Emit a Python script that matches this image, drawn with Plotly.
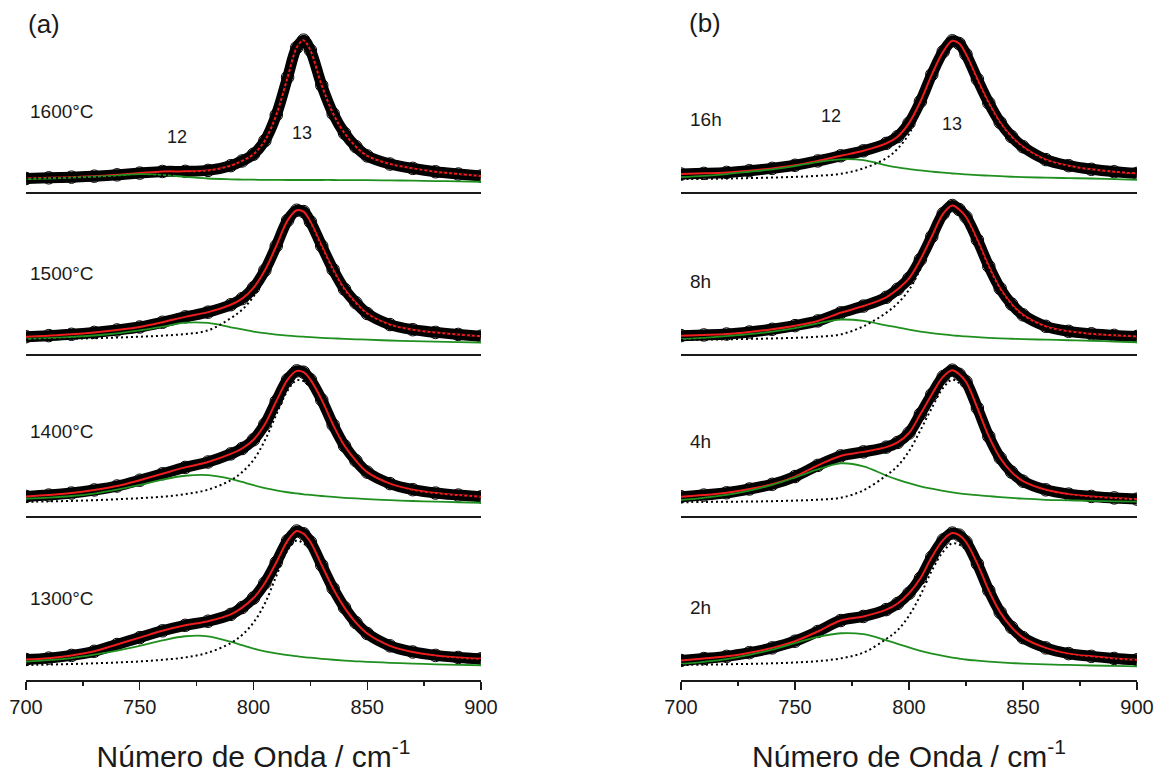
import plotly.graph_objects as go

# ---------------- data ----------------
wavenumber = [700, 710, 720, 730, 740, 750, 760, 770, 780, 790, 795, 800, 805, 810,
              815, 819, 822, 825, 830, 835, 840, 845, 850, 860, 870, 880, 890, 900]

labels_a = ["1600°C", "1500°C", "1400°C", "1300°C"]
labels_b = ["16h", "8h", "4h", "2h"]
tick_values = [700, 750, 800, 850, 900]
minor_tick_values = [725, 775, 825, 875]

# (a) 1600 °C
total_1600 = [0.000, 0.005, 0.010, 0.017, 0.027, 0.040, 0.052, 0.053, 0.060, 0.095, 0.130, 0.180, 0.280, 0.470,
              0.750, 0.970, 1.025, 0.950, 0.690, 0.480, 0.335, 0.236, 0.167, 0.107, 0.075, 0.050, 0.033, 0.018]
band12_1600 = [-0.004, 0.000, 0.006, 0.013, 0.022, 0.032, 0.027, 0.012, 0.000, -0.006, -0.008, -0.009, -0.010, -0.010,
               -0.011, -0.011, -0.011, -0.011, -0.011, -0.011, -0.012, -0.012, -0.012, -0.014, -0.016, -0.019, -0.021, -0.024]
band13_1600 = [0.000, 0.003, 0.006, 0.009, 0.012, 0.016, 0.024, 0.038, 0.055, 0.093, 0.130, 0.180, 0.280, 0.470,
               0.750, 0.970, 1.025, 0.950, 0.690, 0.480, 0.335, 0.236, 0.167, 0.107, 0.075, 0.050, 0.033, 0.018]
# (a) 1500 °C
total_1500 = [0.028, 0.036, 0.046, 0.060, 0.078, 0.100, 0.135, 0.175, 0.210, 0.265, 0.310, 0.390, 0.520, 0.700,
              0.890, 0.965, 0.955, 0.880, 0.700, 0.525, 0.380, 0.280, 0.200, 0.118, 0.080, 0.060, 0.045, 0.032]
band12_1500 = [0.012, 0.018, 0.026, 0.037, 0.053, 0.075, 0.103, 0.132, 0.130, 0.098, 0.082, 0.066, 0.054, 0.044,
               0.036, 0.031, 0.028, 0.025, 0.020, 0.016, 0.012, 0.009, 0.006, 0.000, -0.005, -0.009, -0.012, -0.015]
band13_1500 = [0.008, 0.010, 0.013, 0.017, 0.022, 0.028, 0.036, 0.048, 0.075, 0.165, 0.228, 0.325, 0.465, 0.655,
               0.850, 0.930, 0.925, 0.853, 0.680, 0.510, 0.368, 0.270, 0.195, 0.112, 0.078, 0.058, 0.044, 0.032]
# (a) 1400 °C
total_1400 = [0.045, 0.055, 0.070, 0.093, 0.122, 0.165, 0.213, 0.260, 0.300, 0.360, 0.400, 0.465, 0.580, 0.750,
              0.910, 0.975, 0.965, 0.910, 0.760, 0.575, 0.420, 0.310, 0.225, 0.140, 0.095, 0.070, 0.055, 0.042]
band12_1400 = [0.028, 0.036, 0.048, 0.066, 0.095, 0.130, 0.170, 0.198, 0.203, 0.175, 0.152, 0.128, 0.107, 0.090,
               0.076, 0.067, 0.061, 0.056, 0.048, 0.041, 0.035, 0.030, 0.025, 0.017, 0.011, 0.006, 0.002, -0.002]
band13_1400 = [0.005, 0.008, 0.012, 0.017, 0.024, 0.032, 0.043, 0.062, 0.095, 0.165, 0.225, 0.315, 0.460, 0.650,
               0.830, 0.905, 0.900, 0.850, 0.710, 0.535, 0.385, 0.280, 0.200, 0.122, 0.083, 0.063, 0.052, 0.044]
# (a) 1300 °C
total_1300 = [0.050, 0.060, 0.080, 0.110, 0.160, 0.210, 0.260, 0.300, 0.330, 0.380, 0.430, 0.500, 0.610, 0.760,
              0.920, 0.990, 0.970, 0.910, 0.740, 0.570, 0.430, 0.320, 0.240, 0.150, 0.105, 0.080, 0.065, 0.055]
band12_1300 = [0.035, 0.045, 0.060, 0.085, 0.115, 0.150, 0.190, 0.220, 0.220, 0.180, 0.155, 0.130, 0.110, 0.095,
               0.082, 0.074, 0.068, 0.063, 0.055, 0.048, 0.042, 0.037, 0.033, 0.026, 0.020, 0.015, 0.011, 0.008]
band13_1300 = [0.010, 0.013, 0.017, 0.022, 0.028, 0.036, 0.048, 0.065, 0.100, 0.170, 0.230, 0.320, 0.460, 0.660,
               0.850, 0.920, 0.900, 0.850, 0.690, 0.520, 0.390, 0.285, 0.210, 0.125, 0.085, 0.065, 0.054, 0.047]
# (b) 16 h
total_16h = [0.033, 0.038, 0.045, 0.058, 0.075, 0.098, 0.130, 0.168, 0.205, 0.260, 0.310, 0.410, 0.570, 0.770,
             0.940, 1.020, 1.000, 0.920, 0.735, 0.560, 0.415, 0.310, 0.235, 0.140, 0.095, 0.068, 0.050, 0.038]
band12_16h = [0.010, 0.020, 0.033, 0.050, 0.068, 0.092, 0.122, 0.142, 0.136, 0.098, 0.082, 0.070, 0.060, 0.051,
              0.043, 0.037, 0.034, 0.030, 0.025, 0.021, 0.017, 0.013, 0.010, 0.006, 0.003, 0.000, -0.005, -0.010]
band13_16h = [-0.005, -0.003, 0.000, 0.003, 0.007, 0.012, 0.020, 0.035, 0.075, 0.150, 0.220, 0.330, 0.510, 0.720,
              0.900, 0.985, 0.970, 0.890, 0.710, 0.540, 0.400, 0.300, 0.225, 0.134, 0.092, 0.068, 0.052, 0.042]
# (b) 8 h
total_8h = [0.036, 0.041, 0.048, 0.063, 0.083, 0.110, 0.145, 0.205, 0.255, 0.320, 0.380, 0.460, 0.600, 0.770,
            0.940, 1.000, 0.970, 0.915, 0.745, 0.550, 0.385, 0.270, 0.190, 0.105, 0.068, 0.050, 0.038, 0.030]
band12_8h = [0.010, 0.020, 0.033, 0.047, 0.066, 0.092, 0.127, 0.155, 0.145, 0.112, 0.097, 0.080, 0.066, 0.055,
             0.045, 0.038, 0.034, 0.030, 0.025, 0.020, 0.016, 0.013, 0.010, 0.006, 0.002, -0.002, -0.008, -0.013]
band13_8h = [0.004, 0.006, 0.009, 0.012, 0.015, 0.020, 0.028, 0.045, 0.105, 0.205, 0.275, 0.375, 0.530, 0.715,
             0.895, 0.960, 0.935, 0.885, 0.720, 0.530, 0.370, 0.258, 0.180, 0.100, 0.066, 0.050, 0.040, 0.032]
# (b) 4 h
total_4h = [0.043, 0.055, 0.072, 0.100, 0.135, 0.192, 0.275, 0.345, 0.375, 0.410, 0.445, 0.515, 0.655, 0.800,
            0.932, 0.980, 0.950, 0.895, 0.700, 0.490, 0.330, 0.225, 0.158, 0.094, 0.062, 0.045, 0.034, 0.025]
band12_4h = [0.019, 0.035, 0.056, 0.088, 0.130, 0.185, 0.245, 0.290, 0.268, 0.200, 0.170, 0.143, 0.120, 0.102,
             0.086, 0.075, 0.068, 0.062, 0.054, 0.047, 0.040, 0.034, 0.028, 0.020, 0.016, 0.012, 0.009, 0.006]
band13_4h = [0.002, 0.004, 0.006, 0.007, 0.010, 0.014, 0.021, 0.035, 0.090, 0.200, 0.270, 0.380, 0.535, 0.700,
             0.850, 0.910, 0.885, 0.835, 0.650, 0.450, 0.295, 0.195, 0.135, 0.078, 0.050, 0.037, 0.029, 0.022]
# (b) 2 h
total_2h = [0.043, 0.057, 0.073, 0.100, 0.135, 0.184, 0.255, 0.335, 0.365, 0.415, 0.460, 0.535, 0.645, 0.800,
            0.925, 0.975, 0.960, 0.910, 0.750, 0.555, 0.395, 0.285, 0.210, 0.135, 0.093, 0.073, 0.058, 0.048]
band12_2h = [0.018, 0.033, 0.053, 0.084, 0.122, 0.170, 0.215, 0.242, 0.235, 0.190, 0.165, 0.138, 0.113, 0.093,
             0.076, 0.064, 0.057, 0.050, 0.042, 0.035, 0.029, 0.024, 0.020, 0.014, 0.010, 0.006, 0.003, 0.000]
band13_2h = [0.010, 0.012, 0.015, 0.018, 0.022, 0.028, 0.038, 0.058, 0.100, 0.200, 0.265, 0.370, 0.520, 0.700,
             0.840, 0.900, 0.890, 0.850, 0.700, 0.515, 0.360, 0.255, 0.185, 0.117, 0.080, 0.064, 0.053, 0.046]

series_a = [(total_1600, band12_1600, band13_1600), (total_1500, band12_1500, band13_1500),
            (total_1400, band12_1400, band13_1400), (total_1300, band12_1300, band13_1300)]
series_b = [(total_16h, band12_16h, band13_16h), (total_8h, band12_8h, band13_8h),
            (total_4h, band12_4h, band13_4h), (total_2h, band12_2h, band13_2h)]

# ---------------- layout geometry ----------------
W, H = 1167, 778
FONT = "Liberation Sans, Arial, sans-serif"
INK = "#1a1a1a"
RED = "#ee1c1c"
GREEN = "#1f8f1f"

def fx(px):
    return px / W

def fy(py):
    return 1 - py / H

x_domains = [[fx(26), fx(481)], [fx(681), fx(1137)]]
row_px = [(30, 192), (192, 354), (354, 516), (516, 680)]

fig = go.Figure()
layout_axes = {}

for p, (series, labels) in enumerate([(series_a, labels_a), (series_b, labels_b)]):
    for r in range(4):
        n = p * 4 + r + 1
        xname = "x" if n == 1 else f"x{n}"
        yname = "y" if n == 1 else f"y{n}"
        total, band12, band13 = series[r]

        fig.add_trace(go.Scatter(
            x=wavenumber, y=total, mode="lines+markers", xaxis=xname, yaxis=yname,
            line=dict(color="black", width=11, shape="spline", smoothing=1),
            marker=dict(symbol="circle-open", size=12.5, color="black", line=dict(width=1)),
            showlegend=False, hoverinfo="skip"))
        fig.add_trace(go.Scatter(
            x=wavenumber, y=total, mode="lines", xaxis=xname, yaxis=yname,
            line=dict(color=RED, width=2, shape="spline", smoothing=1),
            showlegend=False))
        fig.add_trace(go.Scatter(
            x=wavenumber, y=band12, mode="lines", xaxis=xname, yaxis=yname,
            line=dict(color=GREEN, width=1.8, shape="spline", smoothing=1),
            showlegend=False))
        fig.add_trace(go.Scatter(
            x=wavenumber, y=band13, mode="lines", xaxis=xname, yaxis=yname,
            line=dict(color="black", width=2, dash="2px,3px", shape="spline", smoothing=1),
            showlegend=False))

        top, bottom = row_px[r]
        xa = dict(domain=x_domains[p], anchor=yname, range=[700, 900],
                  showline=True, linecolor=INK, linewidth=1.6, showgrid=False,
                  zeroline=False, automargin=False, fixedrange=True)
        if r == 3:
            xa.update(ticks="outside", tickvals=tick_values, ticklen=8, tickwidth=1.4,
                      tickcolor=INK, showticklabels=True,
                      tickfont=dict(size=20, family=FONT, color=INK),
                      minor=dict(tickvals=minor_tick_values, ticks="outside", ticklen=4,
                                 tickwidth=1.4, tickcolor=INK),
                      title=dict(text="Número de Onda / cm<sup>-1</sup>",
                                 font=dict(size=30, family=FONT, color=INK), standoff=29))
        else:
            xa.update(ticks="", showticklabels=False)
        ya = dict(domain=[fy(bottom), fy(top)], anchor=xname, range=[-0.1, 1.1],
                  visible=False, fixedrange=True)
        layout_axes["xaxis" if n == 1 else f"xaxis{n}"] = xa
        layout_axes["yaxis" if n == 1 else f"yaxis{n}"] = ya

annotations = []
label_y_a = [112, 273, 431, 598]
label_y_b = [120, 282, 442, 607]
for lab, yy in zip(labels_a, label_y_a):
    annotations.append(dict(text=lab, x=fx(28), y=fy(yy), xref="paper", yref="paper",
                            xanchor="left", yanchor="middle", showarrow=False,
                            font=dict(size=19, family=FONT, color=INK)))
for lab, yy in zip(labels_b, label_y_b):
    annotations.append(dict(text=lab, x=fx(688), y=fy(yy), xref="paper", yref="paper",
                            xanchor="left", yanchor="middle", showarrow=False,
                            font=dict(size=19, family=FONT, color=INK)))
for txt, xx, yy in [("(a)", 26, 24), ("(b)", 687, 23)]:
    annotations.append(dict(text=txt, x=fx(xx), y=fy(yy), xref="paper", yref="paper",
                            xanchor="left", yanchor="middle", showarrow=False,
                            font=dict(size=26, family=FONT, color=INK)))
for txt, xx, yy in [("12", 177, 137), ("13", 302, 133), ("12", 831, 116), ("13", 952, 124)]:
    annotations.append(dict(text=txt, x=fx(xx), y=fy(yy), xref="paper", yref="paper",
                            xanchor="center", yanchor="middle", showarrow=False,
                            font=dict(size=18, family=FONT, color=INK)))

fig.update_layout(width=W, height=H, margin=dict(l=0, r=0, t=0, b=0),
                  paper_bgcolor="white", plot_bgcolor="white",
                  font=dict(family=FONT, color=INK), annotations=annotations,
                  **layout_axes)

fig.write_html("out.html", config={"displayModeBar": False, "staticPlot": True},
               post_script="document.body.style.margin='0px';document.body.style.overflow='hidden';")
